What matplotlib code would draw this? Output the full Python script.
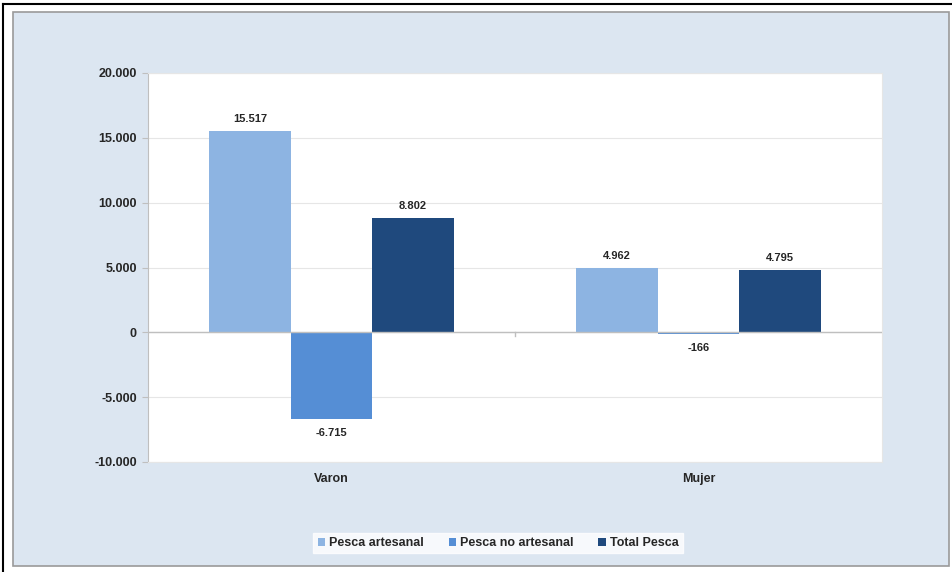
import matplotlib.pyplot as plt
import matplotlib.patches as mpatches
import numpy as np

plt.rcParams['font.family'] = ['Liberation Sans', 'DejaVu Sans']

# datos
categorias = ["Varon", "Mujer"]
series = ["Pesca artesanal", "Pesca no artesanal", "Total Pesca"]
pesca_artesanal = [15517, 4962]
pesca_no_artesanal = [-6715, -166]
total_pesca = [8802, 4795]
y_ticks = [-10000, -5000, 0, 5000, 10000, 15000, 20000]

colores = ["#8DB4E2", "#558ED5", "#1F497D"]


def miles(v):
    # separador de miles con punto
    s = f"{abs(int(v)):,}".replace(",", ".")
    return "-" + s if v < 0 else s


fig = plt.figure(figsize=(9.53, 5.72), dpi=100)
fig.patch.set_facecolor("white")

# panel celeste de fondo
panel = mpatches.Rectangle((13 / 953, 1 - 566 / 572), 936 / 953, 554 / 572,
                           transform=fig.transFigure, facecolor="#DCE6F1",
                           edgecolor="#9A9A9A", linewidth=1.2, zorder=-10)
fig.patches.append(panel)
# borde negro arriba / izquierda
fig.add_artist(plt.Line2D([3 / 953, 1], [1 - 4 / 572, 1 - 4 / 572],
                          transform=fig.transFigure, color="black", lw=1.5))
fig.add_artist(plt.Line2D([3 / 953, 3 / 953], [0, 1 - 4 / 572],
                          transform=fig.transFigure, color="black", lw=1.5))

ax = fig.add_axes([148 / 953, 1 - 462 / 572, 734 / 953, 389 / 572])
ax.set_facecolor("white")

x = np.arange(len(categorias))
ancho = 0.222
valores = [pesca_artesanal, pesca_no_artesanal, total_pesca]
for i, (nombre, vals) in enumerate(zip(series, valores)):
    pos = x + (i - 1) * ancho
    ax.bar(pos, vals, ancho, color=colores[i], label=nombre, zorder=3)
    for p, v in zip(pos, vals):
        if v >= 0:
            ax.annotate(miles(v), (p, v), xytext=(0, 5), textcoords="offset points",
                        ha="center", va="bottom", fontsize=8, fontweight="bold",
                        color="#262626")
        else:
            ax.annotate(miles(v), (p, v), xytext=(0, -6), textcoords="offset points",
                        ha="center", va="top", fontsize=8, fontweight="bold",
                        color="#262626")

ax.set_xlim(-0.5, 1.5)
ax.set_ylim(-10000, 20000)
ax.set_yticks(y_ticks)
ax.set_yticklabels([miles(t) for t in y_ticks], fontsize=9, fontweight="bold",
                   color="#262626")
ax.set_xticks(x)
ax.set_xticklabels(categorias, fontsize=9, fontweight="bold", color="#262626")
ax.tick_params(axis="x", length=0, pad=8)
ax.tick_params(axis="y", length=4, color="#BFBFBF", pad=4)

ax.grid(axis="y", color="#E6E6E6", linewidth=0.8, zorder=0)
ax.axhline(0, color="#BFBFBF", linewidth=1.0, zorder=4)
# marca de separacion de categorias en el eje
ax.plot([0.5, 0.5], [0, -250], color="#BFBFBF", linewidth=1.0, zorder=4)

for lado in ["top", "right", "bottom"]:
    ax.spines[lado].set_color("#E6E6E6")
ax.spines["left"].set_color("#BFBFBF")

leg = fig.legend(loc="center", bbox_to_anchor=(498 / 953, 1 - 543 / 572), ncol=3,
                 frameon=True, fancybox=False, fontsize=9, handlelength=0.6,
                 handleheight=0.6, handletextpad=0.3, columnspacing=2.0,
                 borderpad=0.35, prop={"weight": "bold", "size": 9})
leg.get_frame().set_facecolor("white")
leg.get_frame().set_edgecolor("white")
for t in leg.get_texts():
    t.set_color("#262626")

fig.savefig("out.png", dpi=100)
